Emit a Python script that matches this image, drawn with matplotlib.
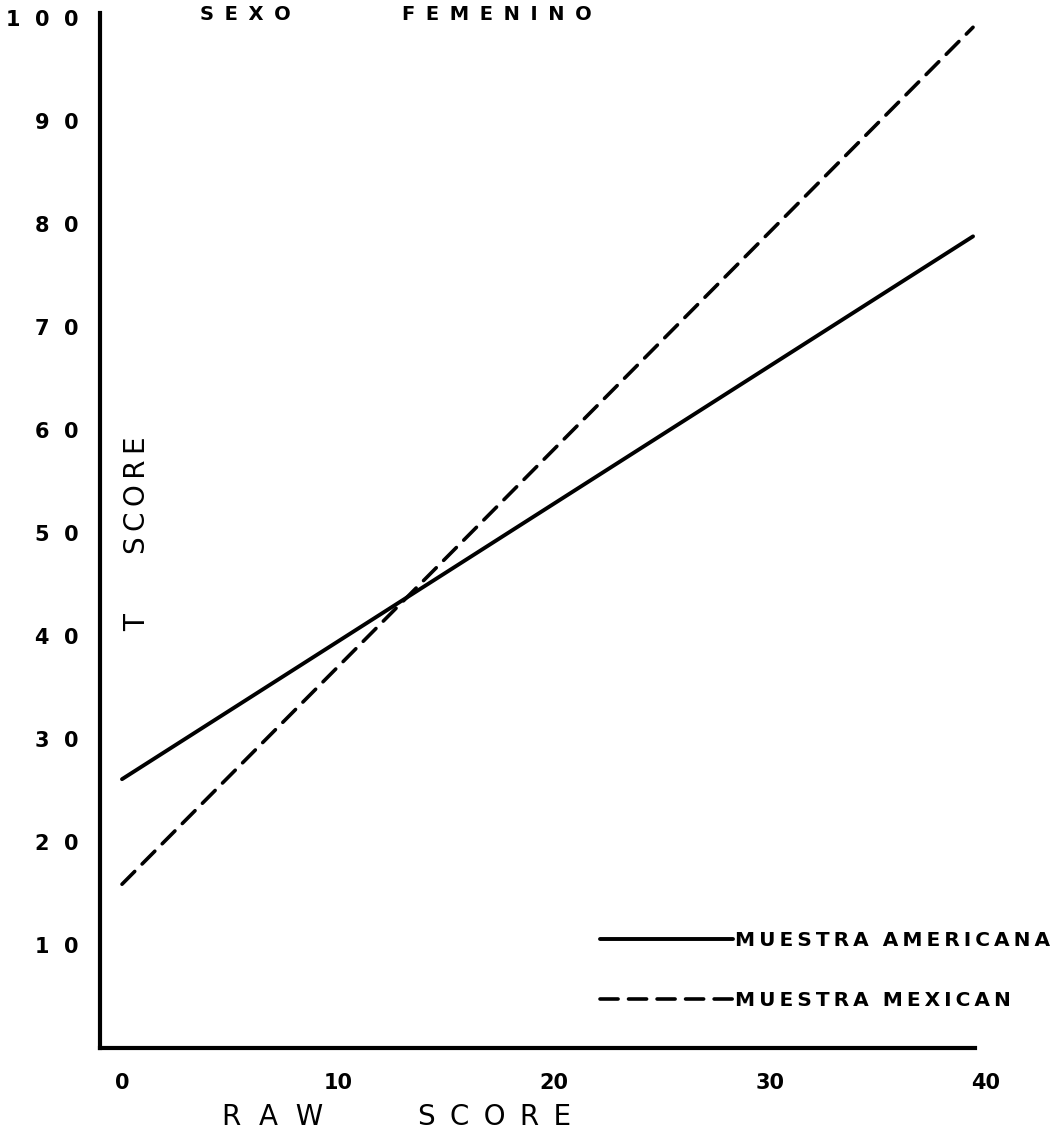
import matplotlib
matplotlib.use("Agg")
import matplotlib.pyplot as plt

# raw score endpoints of the two conversion lines
raw_ends = [0, 39.4]
t_americana = [26.1, 78.8]
t_mexicana = [15.9, 99.1]

x_ticks = [0, 10, 20, 30, 40]
x_tick_labels = ["0", "10", "20", "30", "40"]
y_ticks = [10, 20, 30, 40, 50, 60, 70, 80, 90, 100]
y_tick_labels = ["1  0", "2  0", "3  0", "4  0", "5  0", "6  0", "7  0", "8  0", "9  0", "1  0  0"]

label_americana = "MUESTRA AMERICANA"
label_mexicana = "MUESTRA MEXICAN"

THIN = "\u2009"


def spaced(text, sep=THIN):
    # old hand lettering is widely tracked, imitate with thin spaces
    return "  ".join(sep.join(word) for word in text.split(" "))


W, H = 1064, 1141
fig = plt.figure(figsize=(W / 100, H / 100), dpi=100)

# axes placed in pixel terms: raw 0 -> x 122px, 21.6 px per raw point
x_min, x_max = -1.0, 40.5
px_per_x = 21.6
left_px = 122 + x_min * px_per_x
width_px = (x_max - x_min) * px_per_x
y_min, y_max = 0, 100.5
px_per_y = 10.3
bottom_px = 1048
height_px = (y_max - y_min) * px_per_y
ax = fig.add_axes([left_px / W, (H - bottom_px) / H, width_px / W, height_px / H])

ax.plot(raw_ends, t_americana, color="black", lw=2.8, solid_capstyle="round",
        label=spaced(label_americana))
ax.plot(raw_ends, t_mexicana, color="black", lw=2.6, linestyle=(0, (5.0, 2.9)),
        dash_capstyle="round", label=spaced(label_mexicana))

ax.set_xlim(x_min, x_max)
ax.set_ylim(y_min, y_max)
for side in ["top", "right"]:
    ax.spines[side].set_visible(False)
ax.spines["left"].set_linewidth(3)
ax.spines["bottom"].set_linewidth(3)
ax.spines["bottom"].set_bounds(x_min, 39.5)

ax.set_xticks(x_ticks)
ax.set_xticklabels(x_tick_labels, fontsize=15, fontweight="bold")
ax.set_yticks(y_ticks)
ax.set_yticklabels(y_tick_labels, fontsize=15, fontweight="bold")
ax.tick_params(axis="x", length=0, pad=18)
ax.tick_params(axis="y", length=0, pad=16)

# axis titles and heading, lettered like the original
fig.text(222 / W, 1 - 1117 / H, spaced("R A W", " "), fontsize=20, ha="left", va="center")
fig.text(418 / W, 1 - 1117 / H, spaced("SCORE", " " + THIN), fontsize=20,
         ha="left", va="center")
fig.text(137 / W, 1 - 623 / H, "T", fontsize=20, rotation=90, ha="center", va="center")
fig.text(137 / W, 1 - 495 / H, spaced("SCORE"), fontsize=20, rotation=90,
         ha="center", va="center")
fig.text(200 / W, 1 - 14 / H, spaced("SEXO", " " + THIN), fontsize=14, fontweight="bold",
         ha="left", va="center")
fig.text(402 / W, 1 - 14 / H, spaced("FEMENINO", " " + THIN), fontsize=14,
         fontweight="bold", ha="left", va="center")

leg = ax.legend(loc="upper left", bbox_to_anchor=(590 / W, 1 - 921 / H),
                bbox_transform=fig.transFigure, frameon=False,
                prop={"size": 14.5, "weight": "bold"},
                handlelength=6.6, handletextpad=0.1, borderpad=0,
                labelspacing=2.05)

fig.savefig("out.png", dpi=100, facecolor="white")
